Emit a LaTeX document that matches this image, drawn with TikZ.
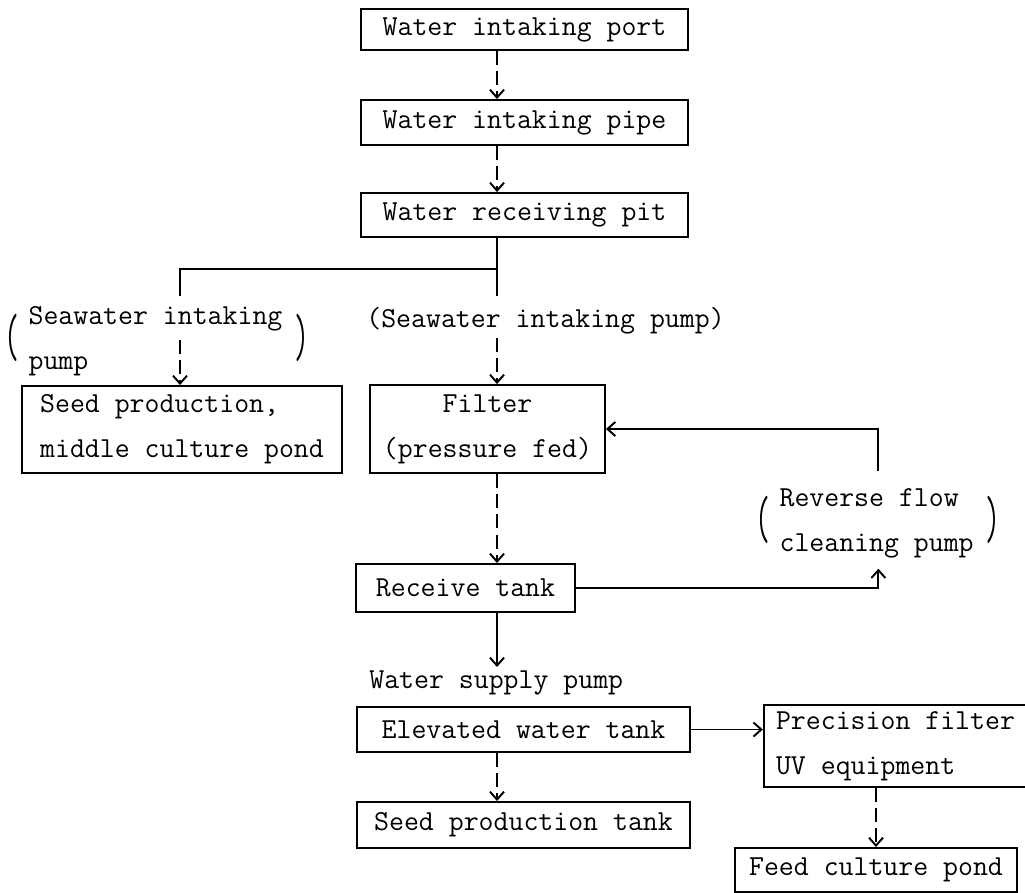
\documentclass[tikz,border=0pt]{standalone}
\usepackage{fontspec}
\usepackage{graphicx}
\usetikzlibrary{arrows.meta}

% two-line pump note set between tall round brackets
\newcommand{\pumpnote}[2]{%
  $\vcenter{\hbox{\scalebox{1}[2.1]{(}}}$\hspace{5pt}%
  \begin{tabular}{@{}l@{}}#1\\#2\end{tabular}%
  \hspace{7pt}$\vcenter{\hbox{\scalebox{1}[2.1]{)}}}$}

\begin{document}
\begin{tikzpicture}[x=0.02cm, y=-0.02cm,
    font=\ttfamily\fontsize{16.5}{25.5}\selectfont,
    stage/.style={draw, line width=1.1pt, inner sep=0pt, align=center},
    note/.style={inner sep=2pt, anchor=west},
    pipe/.style={line width=1.1pt},
    feed/.style={pipe, -{Straight Barb[length=4.5pt, width=8pt]}},
    flow/.style={feed, dash pattern=on 8pt off 3.5pt}]

    % Fix the page to the size of the sheet
    \useasboundingbox (0,0) rectangle (1025,893);

    % x position of the main flow line
    \def\spinex{497}
    \coordinate (axis) at (\spinex,0);

    % Intake line
    \node[stage, minimum width=6.54cm, minimum height=0.82cm] (port) at (524.5,29.5) {Water intaking port};
    \node[stage, minimum width=6.54cm, minimum height=0.9cm] (inpipe) at (524.5,122.5) {Water intaking pipe};
    \node[stage, minimum width=6.54cm, minimum height=0.88cm] (pit) at (524.5,215) {Water receiving pit};

    % Pumps taking water out of the pit
    \node[note] (pumpleft) at (1,338) {\pumpnote{Seawater intaking}{pump}};
    \node[note] (pumpright) at (362.5,321) {(Seawater intaking pump)};

    \node[stage, align=left, minimum width=6.4cm, minimum height=1.74cm] (middle) at (182,429.5) {Seed production,\\middle culture pond};
    \node[stage, minimum width=4.7cm, minimum height=1.76cm] (filter) at (487.5,429) {Filter\\(pressure fed)};

    % Backwash of the filter
    \node[note] (revpump) at (752,520) {\pumpnote{Reverse flow}{cleaning pump}};
    \node[stage, minimum width=4.38cm, minimum height=0.96cm] (receive) at (465.5,588) {Receive tank};

    % Supply side
    \node[note] (supply) at (365.5,683) {Water supply pump};
    \node[stage, minimum width=6.66cm, minimum height=0.9cm] (elevated) at (523.5,729.5) {Elevated water tank};
    \node[stage, minimum width=6.66cm, minimum height=0.92cm] (seedtank) at (523.5,825) {Seed production tank};
    \node[stage, align=left, minimum width=5.27cm, minimum height=1.64cm] (precision) at (895.5,746) {Precision filter\\UV equipment};
    \node[stage, minimum width=5.64cm, minimum height=0.88cm] (pond) at (876,870) {Feed culture pond};

    % Flow down the intake line
    \draw[flow] (port.south -| axis) -- (inpipe.north -| axis);
    \draw[flow] (inpipe.south -| axis) -- (pit.north -| axis);

    % Split of the pit outlet to the two pumps
    \coordinate (split) at (\spinex,269);
    \coordinate (splitleft) at (180,269);
    \coordinate (stopleft) at (180,296);
    \coordinate (stopright) at (\spinex,296);
    \coordinate (goleft) at (180,340);
    \coordinate (goright) at (\spinex,338);
    \draw[pipe] (pit.south -| axis) -- (split) -- (splitleft) -- (stopleft);
    \draw[pipe] (split) -- (stopright);
    \draw[flow] (goleft) -- (middle.north -| goleft);
    \draw[flow] (goright) -- (filter.north -| axis);

    % Filter, receive tank and the backwash loop
    \draw[flow] (filter.south -| axis) -- (receive.north -| axis);
    \draw[feed] (revpump.north) |- (filter.east);
    \draw[feed] (receive.east) -| (revpump.south);

    % Supply to the tanks
    \draw[feed] (receive.south -| axis) -- (supply.north -| axis);
    \draw[flow] (elevated.south -| axis) -- (seedtank.north -| axis);
    \draw[feed] (elevated.east) -- (elevated.east -| precision.west);
    \draw[flow] (precision.south -| pond) -- (pond.north);

\end{tikzpicture}
\end{document}
